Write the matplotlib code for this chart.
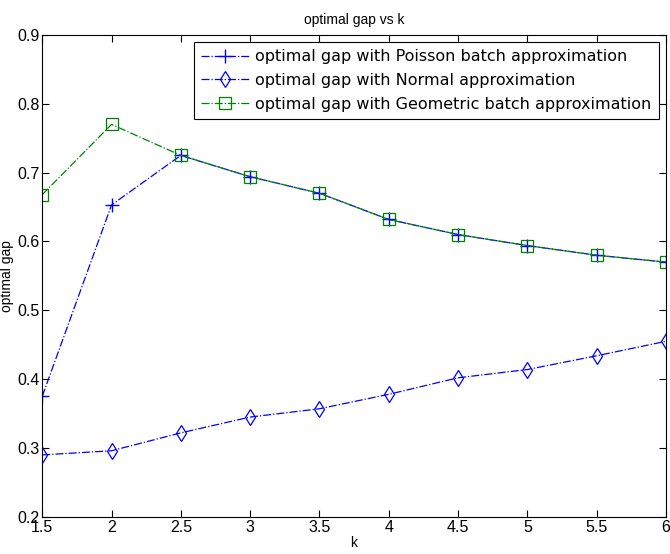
import matplotlib
matplotlib.use("Agg")
import matplotlib.pyplot as plt

k = [1.5, 2, 2.5, 3, 3.5, 4, 4.5, 5, 5.5, 6]
poisson = [0.375, 0.653, 0.725, 0.694, 0.670, 0.632, 0.610, 0.594, 0.580, 0.570]
normal = [0.290, 0.296, 0.322, 0.345, 0.357, 0.378, 0.402, 0.414, 0.434, 0.455]
geometric = [0.668, 0.770, 0.725, 0.694, 0.670, 0.632, 0.610, 0.594, 0.580, 0.570]

xticks = [1.5, 2, 2.5, 3, 3.5, 4, 4.5, 5, 5.5, 6]
yticks = [0.2, 0.3, 0.4, 0.5, 0.6, 0.7, 0.8, 0.9]

plt.rcParams["font.family"] = ["Liberation Sans", "DejaVu Sans"]

fig = plt.figure(figsize=(6.7, 5.54), dpi=100)
ax = fig.add_axes([0.063, 0.067, 0.931, 0.87])

BLUE = "#0000ff"
GREEN = "#008000"

ax.plot(k, poisson, color=BLUE, ls="-.", lw=0.9, marker="+", ms=10, mew=1.0,
        label="optimal gap with Poisson batch approximation")
ax.plot(k, normal, color=BLUE, ls="-.", lw=0.9, marker="d", ms=8, mew=0.9,
        mfc="none", label="optimal gap with Normal approximation")
ax.plot(k, geometric, color=GREEN, ls="-.", lw=0.9, marker="s", ms=8, mew=0.9,
        mfc="none", label="optimal gap with Geometric batch approximation")

ax.set_xlim(1.5, 6)
ax.set_ylim(0.2, 0.9)
ax.set_xticks(xticks)
ax.set_xticklabels([f"{v:g}" for v in xticks])
ax.set_yticks(yticks)
ax.set_yticklabels([f"{v:g}" for v in yticks])
ax.tick_params(direction="in", length=5, labelsize=11.5, top=True, right=True, pad=2)
for s in ax.spines.values():
    s.set_linewidth(0.8)

ax.set_xlabel("k", fontsize=10, labelpad=1)
ax.set_ylabel("optimal gap", fontsize=10, labelpad=2)
ax.set_title("optimal gap vs k", fontsize=10, pad=8)

leg = ax.legend(loc="upper right", handlelength=3.0, fancybox=False,
                prop={"family": "DejaVu Sans", "size": 11.5},
                framealpha=1, edgecolor="black", borderaxespad=0.45,
                labelspacing=0.55, handletextpad=0.4, borderpad=0.45)
leg.get_frame().set_linewidth(0.8)

fig.savefig("out.png", dpi=100, facecolor="white")
